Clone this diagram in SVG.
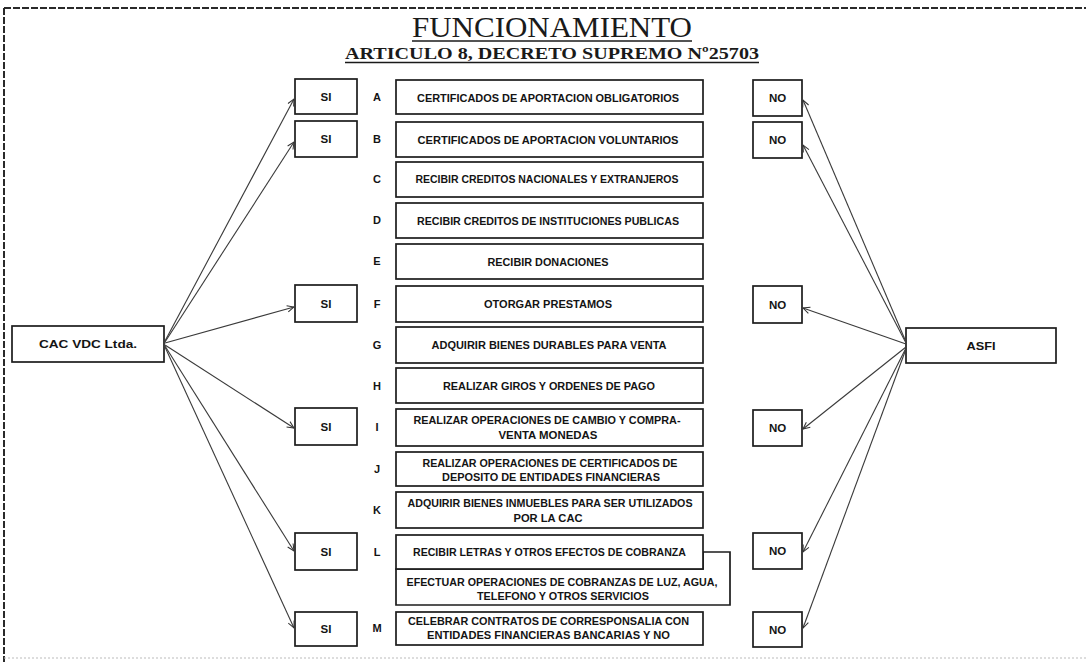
<svg xmlns="http://www.w3.org/2000/svg" width="1086" height="662" viewBox="0 0 1086 662">
<style>
.bg{fill:#fff}
.box{fill:#fff;stroke:#1c1c1c;stroke-width:1.7}
.t{font-family:"Liberation Sans",Arial,sans-serif;font-weight:bold;font-size:10.5px;fill:#141414;text-anchor:middle}
.lt{font-family:"Liberation Sans",Arial,sans-serif;font-weight:bold;font-size:11px;fill:#141414;text-anchor:middle}
.yn{font-family:"Liberation Sans",Arial,sans-serif;font-weight:bold;font-size:11.5px;fill:#141414;text-anchor:middle}
.ttl{font-family:"Liberation Serif","Times New Roman",serif;fill:#1a1a1a;text-anchor:middle}
.ul{stroke:#1a1a1a;stroke-width:1.3}
.con{stroke:#3a3a3a;stroke-width:1.1;fill:none;marker-end:url(#ah)}
.frame{stroke:#2a2a2a;stroke-width:2;stroke-dasharray:7 2;fill:none}
</style>
<defs>
<marker id="ah" viewBox="0 0 10 10" refX="9.5" refY="5" markerWidth="8" markerHeight="8" markerUnits="userSpaceOnUse" orient="auto">
<path d="M1,1 L9.5,5 L1,9" fill="none" stroke="#333" stroke-width="1.3"/>
</marker>
</defs>
<rect class="bg" x="0" y="0" width="1086" height="662"/>
<g id="frame">
<line class="frame" x1="4" y1="8" x2="1086" y2="8"/>
<line class="frame" x1="4" y1="8" x2="4" y2="662"/>
<line x1="4" y1="658" x2="1086" y2="658" stroke="#bbb" stroke-width="1" stroke-dasharray="2 2"/>
</g>
<g id="title">
<text class="ttl" x="552" y="37" font-size="30" textLength="280" lengthAdjust="spacingAndGlyphs">FUNCIONAMIENTO</text>
<line class="ul" x1="412" y1="41" x2="692" y2="41"/>
<text class="ttl" x="552" y="59" font-size="17" font-weight="bold" textLength="414" lengthAdjust="spacingAndGlyphs">ARTICULO 8, DECRETO SUPREMO Nº25703</text>
<line class="ul" x1="345" y1="62.5" x2="759" y2="62.5"/>
</g>
<g id="cac">
<rect class="box" x="12" y="326" width="152" height="36"/>
<text class="yn" x="88" y="348" textLength="98" lengthAdjust="spacingAndGlyphs">CAC VDC Ltda.</text>
</g>
<g id="asfi">
<rect class="box" x="906" y="328" width="150" height="35"/>
<text class="yn" x="981" y="350" textLength="29" lengthAdjust="spacingAndGlyphs">ASFI</text>
</g>
<g id="si-a"><rect class="box" x="295" y="79" width="62" height="35"/><text class="yn" x="326" y="101">SI</text></g>
<g id="si-b"><rect class="box" x="295" y="121" width="62" height="36"/><text class="yn" x="326" y="143">SI</text></g>
<g id="si-f"><rect class="box" x="295" y="285" width="62" height="37"/><text class="yn" x="326" y="307.5">SI</text></g>
<g id="si-i"><rect class="box" x="295" y="408" width="62" height="37"/><text class="yn" x="326" y="430.5">SI</text></g>
<g id="si-l"><rect class="box" x="295" y="533" width="62" height="37"/><text class="yn" x="326" y="555.5">SI</text></g>
<g id="si-m"><rect class="box" x="295" y="612" width="62" height="34"/><text class="yn" x="326" y="633">SI</text></g>
<g id="no-a"><rect class="box" x="753" y="80" width="49" height="36"/><text class="yn" x="777.5" y="102">NO</text></g>
<g id="no-b"><rect class="box" x="753" y="122" width="49" height="36"/><text class="yn" x="777.5" y="144">NO</text></g>
<g id="no-f"><rect class="box" x="753" y="286" width="49" height="37"/><text class="yn" x="777.5" y="308.5">NO</text></g>
<g id="no-i"><rect class="box" x="753" y="410" width="49" height="36"/><text class="yn" x="777.5" y="432">NO</text></g>
<g id="no-l"><rect class="box" x="753" y="533" width="49" height="36"/><text class="yn" x="777.5" y="555">NO</text></g>
<g id="no-m"><rect class="box" x="753" y="612" width="49" height="35"/><text class="yn" x="777.5" y="633.5">NO</text></g>
<g id="item-a"><text class="lt" x="377" y="101">A</text><rect class="box" x="396" y="80" width="307" height="34"/><text class="t" x="548" y="101.5" textLength="262" lengthAdjust="spacingAndGlyphs">CERTIFICADOS DE APORTACION OBLIGATORIOS</text></g>
<g id="item-b"><text class="lt" x="377" y="143">B</text><rect class="box" x="396" y="122" width="307" height="35"/><text class="t" x="548" y="144" textLength="261" lengthAdjust="spacingAndGlyphs">CERTIFICADOS DE APORTACION VOLUNTARIOS</text></g>
<g id="item-c"><text class="lt" x="377" y="183">C</text><rect class="box" x="396" y="162" width="307" height="35"/><text class="t" x="547" y="183" textLength="263" lengthAdjust="spacingAndGlyphs">RECIBIR CREDITOS NACIONALES Y EXTRANJEROS</text></g>
<g id="item-d"><text class="lt" x="377" y="224">D</text><rect class="box" x="396" y="203" width="307" height="35"/><text class="t" x="548" y="224.5" textLength="262" lengthAdjust="spacingAndGlyphs">RECIBIR CREDITOS DE INSTITUCIONES PUBLICAS</text></g>
<g id="item-e"><text class="lt" x="377" y="265">E</text><rect class="box" x="396" y="244" width="307" height="35"/><text class="t" x="548" y="265.5" textLength="121" lengthAdjust="spacingAndGlyphs">RECIBIR DONACIONES</text></g>
<g id="item-f"><text class="lt" x="377" y="308">F</text><rect class="box" x="396" y="286" width="307" height="36"/><text class="t" x="548" y="307.5" textLength="128" lengthAdjust="spacingAndGlyphs">OTORGAR PRESTAMOS</text></g>
<g id="item-g"><text class="lt" x="377" y="349">G</text><rect class="box" x="396" y="327" width="307" height="36"/><text class="t" x="549" y="349" textLength="235" lengthAdjust="spacingAndGlyphs">ADQUIRIR BIENES DURABLES PARA VENTA</text></g>
<g id="item-h"><text class="lt" x="377" y="390">H</text><rect class="box" x="396" y="368" width="307" height="35"/><text class="t" x="549" y="390" textLength="212" lengthAdjust="spacingAndGlyphs">REALIZAR GIROS Y ORDENES DE PAGO</text></g>
<g id="item-i"><text class="lt" x="377" y="431">I</text><rect class="box" x="396" y="409" width="307" height="37"/><text class="t" x="547" y="424" textLength="267" lengthAdjust="spacingAndGlyphs">REALIZAR OPERACIONES DE CAMBIO Y COMPRA-</text><text class="t" x="548" y="439" textLength="99" lengthAdjust="spacingAndGlyphs">VENTA MONEDAS</text></g>
<g id="item-j"><text class="lt" x="377" y="473">J</text><rect class="box" x="396" y="452" width="307" height="34"/><text class="t" x="550" y="466.5" textLength="255" lengthAdjust="spacingAndGlyphs">REALIZAR OPERACIONES DE CERTIFICADOS DE</text><text class="t" x="551" y="481" textLength="218" lengthAdjust="spacingAndGlyphs">DEPOSITO DE ENTIDADES FINANCIERAS</text></g>
<g id="item-k"><text class="lt" x="377" y="514">K</text><rect class="box" x="396" y="492" width="307" height="36"/><text class="t" x="550" y="507" textLength="285" lengthAdjust="spacingAndGlyphs">ADQUIRIR BIENES INMUEBLES PARA SER UTILIZADOS</text><text class="t" x="548" y="522" textLength="69" lengthAdjust="spacingAndGlyphs">POR LA CAC</text></g>
<g id="item-l-ext"><path class="box" d="M703,552 H730 V605 H396 V569 H703 Z"/><text class="t" x="562" y="586" textLength="311" lengthAdjust="spacingAndGlyphs">EFECTUAR OPERACIONES DE COBRANZAS DE LUZ, AGUA,</text><text class="t" x="563" y="600" textLength="172" lengthAdjust="spacingAndGlyphs">TELEFONO Y OTROS SERVICIOS</text></g>
<g id="item-l"><text class="lt" x="377" y="556">L</text><rect class="box" x="396" y="535" width="307" height="34"/><text class="t" x="549.5" y="556" textLength="273" lengthAdjust="spacingAndGlyphs">RECIBIR LETRAS Y OTROS EFECTOS DE COBRANZA</text></g>
<g id="item-m"><text class="lt" x="377" y="632">M</text><rect class="box" x="396" y="612" width="307" height="33"/><text class="t" x="548.5" y="625" textLength="281" lengthAdjust="spacingAndGlyphs">CELEBRAR CONTRATOS DE CORRESPONSALIA CON</text><text class="t" x="548.5" y="639" textLength="243" lengthAdjust="spacingAndGlyphs">ENTIDADES FINANCIERAS BANCARIAS Y NO</text></g>
<g id="connectors">
<line class="con" x1="165" y1="341" x2="294" y2="99"/>
<line class="con" x1="165" y1="342" x2="294" y2="142"/>
<line class="con" x1="165" y1="343" x2="294" y2="307"/>
<line class="con" x1="165" y1="345" x2="294" y2="428"/>
<line class="con" x1="165" y1="346" x2="294" y2="551"/>
<line class="con" x1="165" y1="347" x2="294" y2="628"/>
<line class="con" x1="906" y1="342" x2="803" y2="100"/>
<line class="con" x1="906" y1="343" x2="803" y2="145"/>
<line class="con" x1="906" y1="344" x2="803" y2="308"/>
<line class="con" x1="906" y1="347" x2="803" y2="429"/>
<line class="con" x1="906" y1="348" x2="803" y2="552"/>
<line class="con" x1="906" y1="349" x2="803" y2="628"/>
</g>
</svg>
